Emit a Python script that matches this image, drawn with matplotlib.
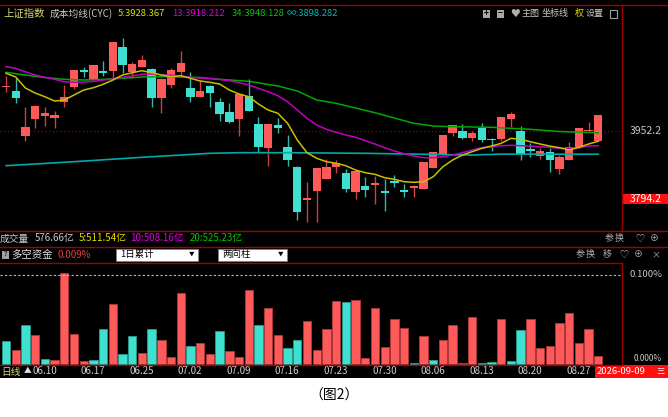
import matplotlib
matplotlib.use('Agg')
import matplotlib.pyplot as plt
from matplotlib.patches import Rectangle
from matplotlib.lines import Line2D

plt.rcParams['font.family'] = ['Noto Sans CJK SC', 'DejaVu Sans']

# ---- data ----
opens = [4053.7, 4045.9, 3941.3, 3979.3, 3987.0, 3982.4, 4018.8, 4053.7, 4093.9, 4073.8,
         4092.4, 4091.6, 4148.1, 4090.1, 4101.7, 4095.5, 4028.9, 4059.1, 4088.5, 4052.9,
         4032.0, 4057.5, 4020.3, 3997.1, 3979.3, 4032.7, 3967.7, 3913.5, 3965.4, 3914.2,
         3868.6, 3792.6, 3812.8, 3841.4, 3869.3, 3855.4, 3809.7, 3825.2, 3825.9, 3812.0,
         3836.8, 3815.1, 3819.0, 3816.7, 3867.0, 3898.0, 3946.8, 3953.0, 3936.7, 3959.2,
         3933.6, 3933.6, 3980.8, 3953.0, 3909.6, 3894.1, 3903.4, 3864.7, 3884.8, 3913.5,
         3951.4, 3929.7]
highs = [4080.0, 4074.6, 4008.7, 4012.6, 4007.2, 3999.4, 4059.1, 4093.9, 4100.1, 4105.5,
         4114.8, 4158.2, 4169.1, 4113.3, 4129.6, 4097.8, 4074.6, 4097.8, 4138.8, 4090.1,
         4069.1, 4059.1, 4028.1, 4016.5, 4038.2, 4073.8, 3985.5, 3969.2, 3983.2, 3942.9,
         3870.9, 3832.9, 3866.2, 3886.4, 3884.8, 3863.1, 3860.0, 3846.1, 3848.4, 3841.4,
         3849.2, 3829.0, 3825.9, 3880.9, 3902.6, 3942.9, 3966.9, 3967.7, 3952.2, 3970.0,
         3935.2, 3983.9, 3996.3, 3963.8, 3923.5, 3911.9, 3913.5, 3896.4, 3927.4, 3958.4,
         3973.1, 3988.6]
lows = [4043.6, 4016.5, 3929.7, 3958.4, 3963.8, 3959.9, 4008.7, 4049.8, 4078.4, 4070.7,
        4080.0, 4069.9, 4086.2, 4074.6, 4100.1, 4008.7, 3994.8, 4052.9, 4078.4, 4020.3,
        4030.4, 4007.2, 3975.4, 3971.6, 3941.3, 3998.7, 3904.2, 3871.6, 3946.8, 3870.9,
        3745.4, 3740.0, 3741.5, 3841.4, 3855.4, 3809.7, 3794.2, 3799.6, 3783.4, 3767.1,
        3822.8, 3799.6, 3799.6, 3816.7, 3867.0, 3898.0, 3940.6, 3933.6, 3929.7, 3927.4,
        3906.5, 3929.7, 3960.7, 3884.8, 3891.0, 3886.4, 3857.7, 3852.3, 3884.8, 3913.5,
        3951.4, 3929.7]
closes = [4057.5, 4028.1, 3962.3, 4010.3, 3994.8, 3988.6, 4030.4, 4093.9, 4089.3, 4105.5,
          4087.7, 4158.2, 4104.8, 4108.6, 4116.4, 4028.9, 4072.2, 4093.9, 4110.2, 4030.4,
          4044.4, 4041.3, 3991.7, 3973.9, 4038.2, 3998.7, 3915.8, 3969.2, 3958.4, 3884.8,
          3764.0, 3796.5, 3866.2, 3869.3, 3878.6, 3816.7, 3860.0, 3814.3, 3830.6, 3807.4,
          3832.1, 3811.2, 3824.4, 3880.9, 3902.6, 3942.9, 3966.9, 3936.7, 3948.3, 3931.3,
          3931.3, 3983.9, 3990.9, 3898.0, 3906.5, 3906.5, 3884.8, 3891.8, 3914.2, 3958.4,
          3953.7, 3988.6]

cyc5 = [4086.3, 4077.7, 4052.1, 4040.5, 4031.9, 4021.9, 4024.2, 4035.8, 4047.5, 4052.8,
        4060.7, 4070.7, 4082.3, 4087.7, 4092.3, 4087.7, 4082.3, 4078.4, 4080.7, 4074.6,
        4068.4, 4065.4, 4061.4, 4047.5, 4038.2, 4031.9, 4014.9, 4001.0, 3993.3, 3970.1,
        3931.3, 3901.8, 3888.8, 3880.9, 3877.2, 3871.6, 3861.6, 3855.3, 3851.6, 3843.7,
        3840.0, 3834.4, 3833.0, 3834.4, 3846.0, 3869.3, 3884.8, 3896.4, 3904.1, 3912.0,
        3917.3, 3923.6, 3935.2, 3932.9, 3927.3, 3922.0, 3917.3, 3913.4, 3908.1, 3914.3,
        3922.0, 3928.4]
cyc13 = [4101.6, 4097.9, 4090.0, 4082.3, 4077.0, 4072.3, 4066.7, 4065.4, 4066.1, 4067.7,
         4070.7, 4073.0, 4077.0, 4080.7, 4083.9, 4084.6, 4083.0, 4081.6, 4080.0, 4077.0,
         4075.3, 4073.7, 4072.3, 4069.1, 4064.4, 4059.1, 4051.4, 4043.5, 4034.2, 4020.3,
         4001.0, 3981.7, 3966.1, 3956.1, 3949.2, 3942.9, 3937.6, 3929.7, 3922.0, 3913.4,
         3905.7, 3899.5, 3894.1, 3890.2, 3890.2, 3892.5, 3896.4, 3901.8, 3908.1, 3913.4,
         3915.7, 3918.0, 3919.0, 3918.0, 3917.3, 3915.7, 3914.3, 3912.0, 3912.0, 3913.4,
         3917.3, 3918.2]
cyc34_x = [0, 2, 4, 6, 8, 10, 12, 14, 16, 18, 20, 22, 25, 28, 30, 32, 34, 36, 38, 40,
           42, 44, 46, 50, 54, 57, 61]
cyc34 = [4088.6, 4082.3, 4076.5, 4072.3, 4070.7, 4072.3, 4074.6, 4077.7, 4078.4, 4077.7,
         4076.5, 4072.3, 4067.7, 4056.8, 4045.1, 4024.2, 4016.6, 4005.6, 3994.7, 3982.4,
         3970.1, 3963.8, 3962.2, 3960.8, 3956.1, 3951.0, 3948.1]
cycinf_x = [0, 7, 14, 21, 24, 29, 37, 42, 48, 51, 61]
cycinf = [3871.6, 3880.9, 3891.1, 3900.4, 3901.8, 3901.8, 3900.4, 3898.5, 3896.4, 3898.5,
          3898.3]

# 多空资金 bars (%), colour flag r = red, c = cyan
fund_vals = [0.0256, 0.0154, 0.0432, 0.0323, 0.0053, 0.0045, 0.1023, 0.0331, 0.0030, 0.0041,
             0.0387, 0.0673, 0.0109, 0.0316, 0.0117, 0.0395, 0.0271, 0.0071, 0.0793, 0.0199,
             0.0233, 0.0109, 0.0372, 0.0143, 0.0079, 0.0827, 0.0440, 0.0632, 0.0323, 0.0173,
             0.0271, 0.0477, 0.0154, 0.0395, 0.0703, 0.0692, 0.0714, 0.0060, 0.0624, 0.0192,
             0.0508, 0.0398, 0.0011, 0.0316, 0.0041, 0.0263, 0.0440, 0.0011, 0.0530, 0.0011,
             0.0019, 0.0500, 0.0026, 0.0376, 0.0500, 0.0177, 0.0199, 0.0455, 0.0571, 0.0233,
             0.0391, 0.0086]
fund_dir = list('crcrcrrrrccrccrcrrrcrrcrrrcrrccrrrrcrrrrrrcrcrrrrccrccrrrrrrrr')

date_idx = [3, 8, 13, 18, 23, 28, 33, 38, 43, 48, 53, 58]
date_labels = ['06.10', '06.17', '06.25', '07.02', '07.09', '07.16', '07.23', '07.30',
               '08.06', '08.13', '08.20', '08.27']

price_ticks = [3952.2, 3794.2]

# ---- layout helpers (pixel -> figure fraction) ----
W, H = 668, 417
def fx(px):
    return px / W
def fy(py):
    return 1 - py / H

X0, PITCH = 6.0, 9.71
RED, CYAN = '#ff5a5a', '#40e0d0'
BORDER = '#a00000'
GREY = '#c8c8c8'

fig = plt.figure(figsize=(6.68, 4.17), dpi=100, facecolor='white')
fig.add_artist(Rectangle((0, fy(378)), 1, 378 / H, transform=fig.transFigure,
                         facecolor='black', edgecolor='none', zorder=0))

def clean(a):
    a.set_facecolor('black')
    for s in a.spines.values():
        s.set_visible(False)
    a.set_xticks([])
    a.set_yticks([])

# ---- main K-line panel ----
ax = fig.add_axes([0, fy(230), fx(622), (230 - 5) / H])
clean(ax)
n = len(opens)
xs = list(range(n))
ax.set_xlim((0 - X0) / PITCH, (622 - X0) / PITCH)
ax.set_ylim(3722.2, 4245.0)

up = [c >= o for o, c in zip(opens, closes)]
body_col = [RED if u else CYAN for u in up]
wick_col = ['#d04040' if u else '#30b8aa' for u in up]
ax.vlines(xs, lows, highs, colors=wick_col, lw=1, zorder=2)
ax.bar(xs, [max(abs(c - o), 2.3) for o, c in zip(opens, closes)],
       bottom=[min(o, c) for o, c in zip(opens, closes)],
       width=0.86, color=body_col, lw=0, zorder=3)

ax.axhline(price_ticks[0], color='#990000', ls=(0, (1, 2)), lw=0.9, zorder=1)
ax.plot(cycinf_x, cycinf, color='#00a8a8', lw=1.2, zorder=4)
ax.plot(cyc34_x, cyc34, color='#00a800', lw=1.1, zorder=4)
ax.plot(xs, cyc13, color='#c000c0', lw=1.1, zorder=4)
ax.plot(xs, cyc5, color='#c8c000', lw=1.1, zorder=4)

ytr = ax.get_yaxis_transform()
ax.text(662 / 622, price_ticks[0], '3952.2', transform=ytr, ha='right', va='center',
        color=GREY, fontsize=7.5, clip_on=False)
ax.add_patch(Rectangle((1.0, price_ticks[1] - 11.5), 46 / 622, 23, transform=ytr,
                       facecolor='#ff1010', edgecolor='none', clip_on=False))
ax.text(662 / 622, price_ticks[1], '3794.2', transform=ytr, ha='right', va='center',
        color='white', fontsize=7.5, clip_on=False)

# header line
hy = fy(13.5)
head = [(3, '上证指数', '#d8d870', 7.5), (50, '成本均线(CYC)', GREY, 7),
        (118, '5:3928.367', '#e0e000', 6.8), (172, '13:3918.212', '#e000e0', 6.8),
        (232, '34:3948.128', '#00c800', 6.8), (287, '∞:3898.282', '#00b8b8', 6.8),
        (522, '主图', GREY, 6.5), (542, '坐标线', GREY, 6.5), (575, '权', '#e0e000', 6.5),
        (586, '设置', GREY, 6.5)]
for px, s, c, fs in head:
    fig.text(fx(px), hy, s, color=c, fontsize=fs, va='center', ha='left')
for px, s in [(483, '+'), (497, '−')]:
    fig.add_artist(Rectangle((fx(px), fy(17.5)), fx(7), 8 / H, transform=fig.transFigure,
                             facecolor='#a8a8a8', edgecolor='none'))
    fig.text(fx(px + 3.5), hy, s, color='black', fontsize=6, ha='center', va='center',
             fontweight='bold')
fig.text(fx(515.5), hy, '♥', color='#b0b0b0', fontsize=7, ha='center', va='center')
fig.add_artist(Rectangle((fx(610), fy(17.5)), fx(7), 8 / H, transform=fig.transFigure,
                         facecolor='none', edgecolor='#a0a0a0', lw=0.8))

# ---- volume header row ----
vy = fy(238.5)
for px, s, c in [(0, '成交量', GREY), (35, '576.66亿', GREY), (79, '5:511.54亿', '#e0e000'),
                 (130, '10:508.16亿', '#e000e0'), (190, '20:525.23亿', '#00c800')]:
    fig.text(fx(px), vy, s, color=c, fontsize=7, va='center', ha='left')
for px, s in [(605, '参'), (615, '换'), (635, '♡'), (650, '⊕')]:
    fig.text(fx(px), vy, s, color='#b0b0b0', fontsize=6.5, va='center', ha='left')

# ---- 多空资金 header row ----
dy = fy(254.5)
fig.add_artist(Rectangle((fx(2), fy(258.5)), fx(7), 8 / H, transform=fig.transFigure,
                         facecolor='#a0a0a0', edgecolor='none'))
fig.text(fx(5.5), dy, '?', color='black', fontsize=5.5, ha='center', va='center')
fig.text(fx(11), dy, '多空资金', color='#e0e0e0', fontsize=7.5, va='center')
fig.text(fx(57), dy, '0.009%', color='#e04040', fontsize=7, va='center')
for x1, x2, s in [(116, 198, '1日累计'), (218, 287, '两向柱')]:
    fig.add_artist(Rectangle((fx(x1), fy(261)), fx(x2 - x1), 12 / H, transform=fig.transFigure,
                             facecolor='white', edgecolor='#808080', lw=0.6))
    fig.text(fx(x1 + 4), dy, s, color='black', fontsize=6.8, va='center')
    fig.text(fx(x2 - 6), dy, '▼', color='black', fontsize=4, va='center', ha='center')
for px, s in [(576, '参'), (586, '换'), (603, '移'), (619, '♡'), (634, '⊕'), (651, '×')]:
    fig.text(fx(px), dy, s, color='#b0b0b0', fontsize=6.5, va='center', ha='left')

# ---- 多空资金 bar panel ----
ax2 = fig.add_axes([0, fy(365), fx(622), (365 - 263) / H])
clean(ax2)
ax2.set_xlim((0 - X0) / PITCH, (622 - X0) / PITCH)
ax2.set_ylim(-0.0015, 0.1135)
fcol = [RED if d == 'r' else CYAN for d in fund_dir]
ecol = ['#b03a3a' if d == 'r' else '#2a9a90' for d in fund_dir]
ax2.bar(range(len(fund_vals)), fund_vals, width=0.86, color=fcol, edgecolor=ecol, lw=0.6)
ax2.axhline(0.1, color='#c0c0c0', ls=(0, (2, 2)), lw=0.8)
ytr2 = ax2.get_yaxis_transform()
ax2.text(662 / 622, 0.1, '0.100%', transform=ytr2, ha='right', va='center',
         color=GREY, fontsize=6.8, clip_on=False)
ax2.text(662 / 622, 0.006, '0.000%', transform=ytr2, ha='right', va='center',
         color=GREY, fontsize=6, clip_on=False)

# ---- date row ----
ax3 = fig.add_axes([0, fy(378), 1, 13 / H])
clean(ax3)
ax3.set_xlim((0 - X0) / PITCH, (668 - X0) / PITCH)
ax3.set_ylim(0, 1)
xtr = ax3.get_xaxis_transform()
for i, s in zip(date_idx, date_labels):
    ax3.text(i - 0.3, 0.5, s, transform=xtr, color='#d0d0d0', fontsize=7,
             ha='left', va='center')
ax3.text(1.5 / 668, 0.5, '日线', transform=ax3.transAxes, color='#d8d870', fontsize=7,
         va='center', ha='left')
ax3.text(24 / 668, 0.5, '▲', transform=ax3.transAxes, color='#e0e0e0', fontsize=5.5,
         va='center', ha='left')
ax3.add_patch(Rectangle((595 / 668, 0), 73 / 668, 1, transform=ax3.transAxes,
                        facecolor='#ff1010', edgecolor='none'))
ax3.text(597 / 668, 0.5, '2026-09-09', transform=ax3.transAxes, color='white',
         fontsize=6.8, va='center', ha='left')
ax3.text(661 / 668, 0.5, '三', transform=ax3.transAxes, color='white',
         fontsize=6, va='center', ha='center')

# ---- red frame lines ----
def hline(py, x1=0, x2=668):
    fig.add_artist(Line2D([fx(x1), fx(x2)], [fy(py), fy(py)], color=BORDER, lw=1, zorder=10))
def vline(px, y1, y2):
    fig.add_artist(Line2D([fx(px), fx(px)], [fy(y1), fy(y2)], color=BORDER, lw=1, zorder=10))
hline(4.5)
hline(230.5)
hline(247)
hline(263, 0, 622)
hline(365, 0, 622)
vline(622, 4.5, 230.5)
vline(622, 263, 365)

fig.text(0.5, fy(396), '（图2）', ha='center', va='center', color='black', fontsize=10)

fig.savefig('out.png', dpi=100, facecolor='white')
